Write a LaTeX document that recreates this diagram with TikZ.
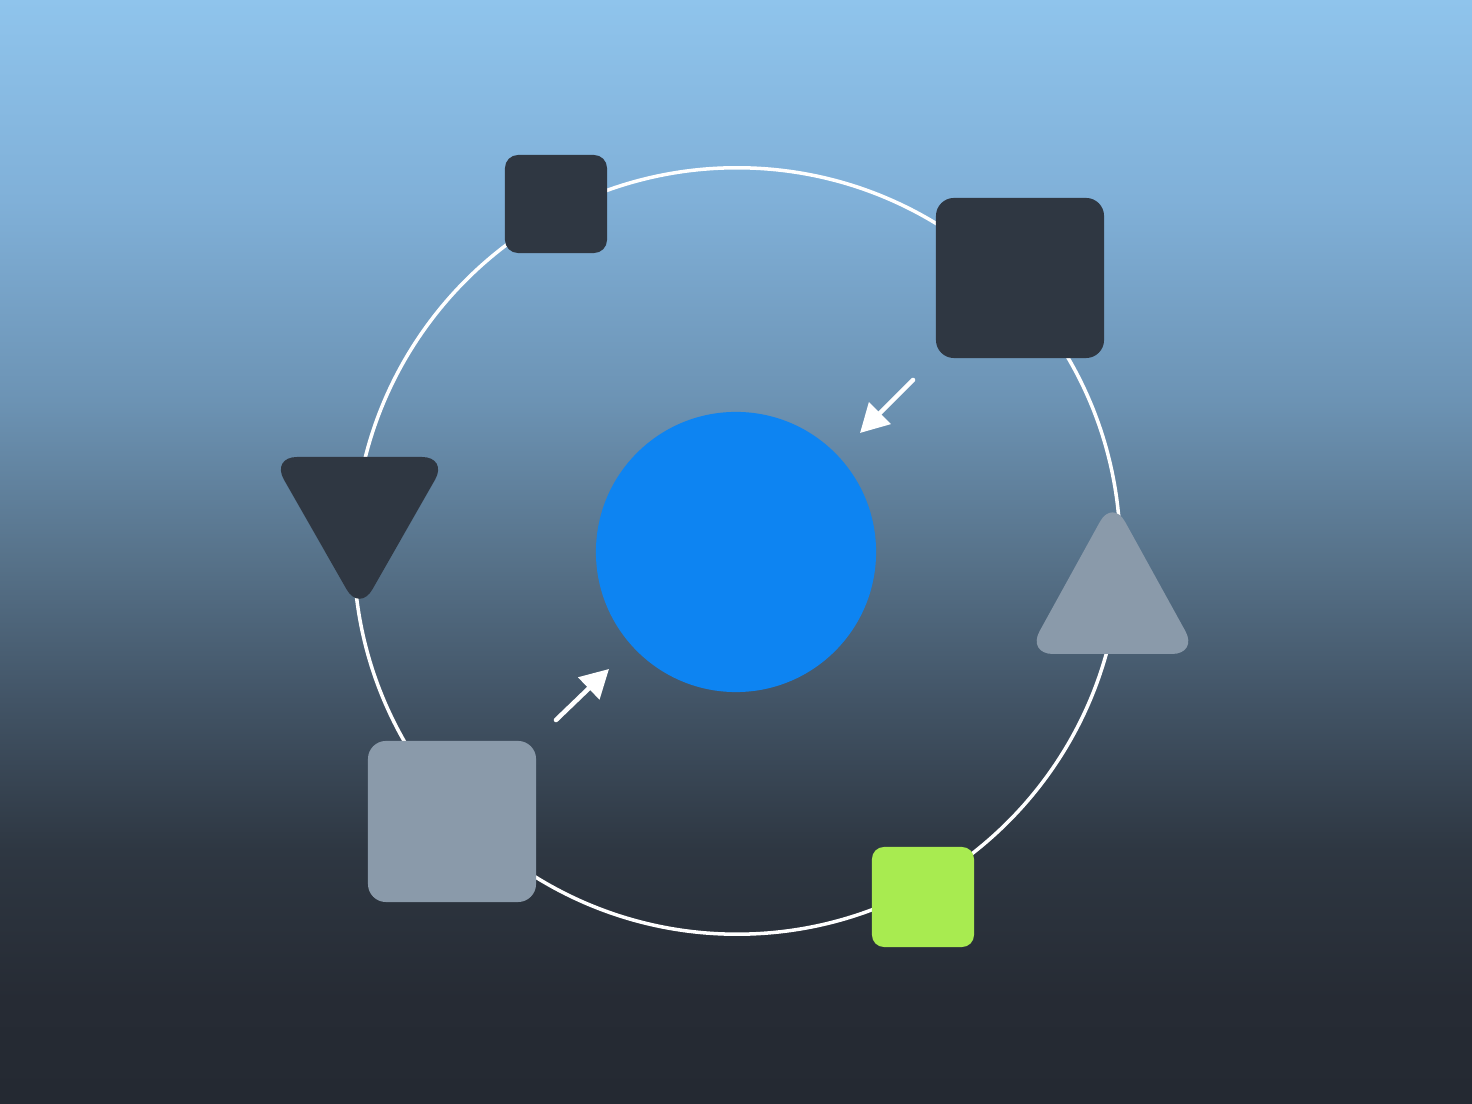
\documentclass[tikz,border=0pt]{standalone}
\usetikzlibrary{arrows.meta}
\definecolor{bg0}{RGB}{143,196,236}
\definecolor{bg1}{RGB}{128,176,216}
\definecolor{bg2}{RGB}{108,147,180}
\definecolor{bg3}{RGB}{88,116,140}
\definecolor{bg4}{RGB}{66,84,102}
\definecolor{bg5}{RGB}{46,55,66}
\definecolor{bg6}{RGB}{38,43,52}
\definecolor{bg7}{RGB}{36,41,50}
\definecolor{darkshape}{RGB}{47,55,66}
\definecolor{grayshape}{RGB}{138,154,170}
\definecolor{blueshape}{RGB}{13,132,242}
\definecolor{greenshape}{RGB}{168,235,80}
\pgfdeclareverticalshading{bgshade}{100bp}{color(0bp)=(bg7); color(25bp)=(bg7); color(29.71bp)=(bg6); color(36.5bp)=(bg5); color(43.3bp)=(bg4); color(50.09bp)=(bg3); color(56.88bp)=(bg2); color(65.94bp)=(bg1); color(75bp)=(bg0); color(100bp)=(bg0)}
\tikzset{
  shapebox/.style={rectangle, inner sep=0pt, outer sep=0pt},
  ringline/.style={draw=white, line width=1pt, circle, inner sep=0pt, outer sep=0pt},
  pointer/.style={draw=white, line width=1.3pt, line cap=round, -{Triangle[length=8pt,width=8.5pt]}},
}
\begin{document}
\begin{tikzpicture}[x=0.01cm,y=-0.01cm]
\useasboundingbox (0,0) rectangle (1472,1104);
\fill[shading=bgshade] (0,0) rectangle (1472,1104);
% ring
\node[ringline, minimum size=7.66cm] (ring) at (737,551) {};
% centre circle
\node[circle, fill=blueshape, inner sep=0pt, minimum size=2.8cm] (core) at (736,552) {};
% squares
\node[shapebox, fill=darkshape, rounded corners=0.13cm, minimum width=1.02cm, minimum height=0.98cm] (sqa) at (556,204) {};
\node[shapebox, fill=darkshape, rounded corners=0.18cm, minimum width=1.68cm, minimum height=1.6cm] (sqb) at (1020,278) {};
\node[shapebox, fill=grayshape, rounded corners=0.18cm, minimum width=1.68cm, minimum height=1.61cm] (sqc) at (452,821.5) {};
\node[shapebox, fill=greenshape, rounded corners=0.12cm, minimum width=1.02cm, minimum height=1.0cm] (sqd) at (923,897) {};
% triangles
\fill[darkshape, rounded corners=0.26cm] (271,457) -- (448,457) -- (359.5,612) -- cycle;
\fill[grayshape, rounded corners=0.26cm] (1112.5,499) -- (1198,654) -- (1027,654) -- cycle;
% arrows
\coordinate (a1s) at (913,380);
\coordinate (a1e) at (860,433);
\coordinate (a2s) at (556,720);
\coordinate (a2e) at (609,669);
\draw[pointer] (a1s) -- (a1e);
\draw[pointer] (a2s) -- (a2e);
\end{tikzpicture}
\end{document}
